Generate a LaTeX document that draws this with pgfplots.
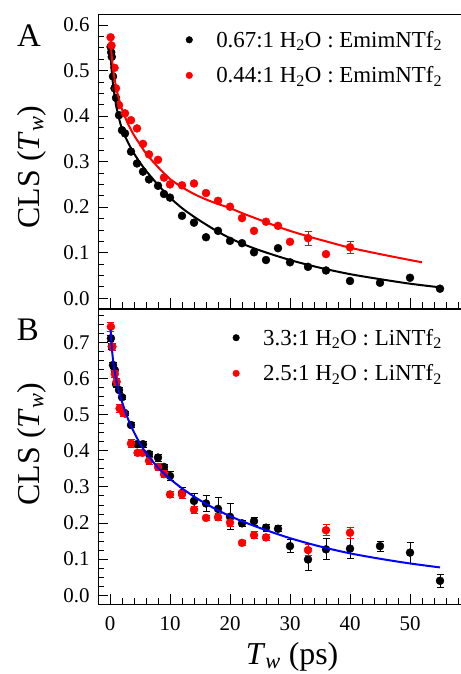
\documentclass[border=0pt]{standalone}
\usepackage{fontspec}
\setmainfont{Liberation Serif}
\usepackage{pgfplots}
\pgfplotsset{compat=1.18}
\definecolor{myred}{RGB}{255,0,0}
\definecolor{myblue}{RGB}{0,0,255}
\pgfplotsset{
  cls/.style={
    scale only axis, width=369bp, clip mode=individual,
    xmin=-2, xmax=59.5,
    xtick distance=10, minor x tick num=4,
    ytick distance=0.1, minor y tick num=3,
    tick align=inside, xtick pos=bottom, ytick pos=left,
    major tick length=10bp, minor tick length=6bp,
    every tick/.style={black, line width=0.8bp},
    axis line style={line width=0.8bp},
    tick label style={font=\fontsize{21}{25}\selectfont},
    /pgf/number format/assume math mode=true,
    y tick label style={/pgf/number format/fixed, /pgf/number format/fixed zerofill, /pgf/number format/precision=1},
    yticklabel style={xshift=-5bp},
    xticklabel style={yshift=-9bp},
    label style={font=\fontsize{32}{38}\selectfont},
    legend cell align=left,
    legend style={draw=none, fill=none, font=\fontsize{23}{27}\selectfont,
      row sep=14bp, anchor=north west, inner sep=0pt},
    legend image code/.code={%
      \path[draw=none, fill=none] (-4bp,-4bp) rectangle (25bp,4bp);
      \draw[#1, mark size=3.3bp] plot coordinates {(0bp,0bp)};},
  },
  pts/.style={only marks, mark=*, mark size=4bp, mark options={draw=none},
      error bars/y dir=both, error bars/y explicit,
      error bars/error bar style={line width=0.8bp},
      error bars/error mark options={rotate=90, mark size=3.5bp, line width=0.8bp}},
  fit/.style={no marks, line width=2bp, smooth},
}
\begin{document}
\begin{tikzpicture}
\useasboundingbox (0,0) rectangle (461bp,674bp);
% ---------------- Panel A ----------------
\begin{axis}[cls, at={(98bp,365.7bp)}, anchor=south west,
  height=293.6bp, ymin=-0.022, ymax=0.6226,
  xticklabels={},
  ylabel={CLS (\textit{T}\textsubscript{\textit{w}})},
  ylabel style={at={(axis description cs:-0.1789,0.481)}, anchor=center, rotate=0},
  legend style={at={(axis description cs:0.236,0.952)}},
]
\addplot[pts, black] coordinates {
(0.1,0.552) (0.2,0.540) (0.3,0.530) (0.5,0.487) (0.75,0.461) (1.0,0.440)
(1.5,0.402) (2.0,0.369) (2.5,0.362) (3.5,0.322) (4.5,0.296) (5.5,0.278)
(6.5,0.261) (8,0.247) (9,0.229) (10,0.221) (12,0.181) (14,0.166) (16,0.134)
(18,0.148) (20,0.126) (22,0.121) (24,0.101) (26,0.084) (28,0.110) (30,0.079)
(33,0.069) (36,0.061) (40,0.038) (45,0.034) (50,0.045) (55,0.021)};
\addlegendentry{0.67:1 H\textsubscript{2}O : EmimNTf\textsubscript{2}}
\addplot[pts, myred] coordinates {
(0.1,0.573) (0.25,0.555) (0.75,0.506) (1.0,0.461) (1.5,0.424) (2.5,0.406)
(3.5,0.391) (4.5,0.373) (5.5,0.339) (6.5,0.316) (8,0.304) (9,0.265) (10,0.250)
(12,0.248) (14,0.252) (16,0.231) (18,0.214) (20,0.201) (22,0.176) (24,0.148)
(26,0.168) (28,0.159) (30,0.124) (33,0.132) +- (0,0.015) (36,0.097)
(40,0.112) +- (0,0.013)};
\addlegendentry{0.44:1 H\textsubscript{2}O : EmimNTf\textsubscript{2}}
\addplot[fit, black, forget plot] coordinates {
(0.05,0.548) (0.25,0.505) (0.5,0.47) (1,0.425) (1.5,0.395) (2,0.372) (3,0.342)
(4,0.318) (5,0.298) (6,0.28) (8,0.249) (10,0.221) (12,0.198) (14,0.179)
(16,0.162) (18,0.146) (20,0.132) (22,0.12) (25,0.105) (30,0.084) (35,0.067)
(40,0.053) (45,0.042) (50,0.032) (55,0.024)};
\addplot[fit, myred, forget plot] coordinates {
(0.1,0.565) (0.3,0.53) (0.6,0.495) (1,0.465) (1.5,0.437) (2,0.415) (3,0.383)
(4,0.358) (5,0.338) (6,0.318) (8,0.288) (10,0.262) (12,0.244) (14,0.229)
(16,0.217) (18,0.207) (20,0.198) (22,0.187) (24,0.177) (26,0.167) (28,0.157)
(30,0.148) (33,0.136) (36,0.125) (40,0.111) (45,0.097) (50,0.084) (52,0.079)};
\node[font=\fontsize{33}{40}\selectfont] at (axis description cs:-0.187,0.927) {A};
\end{axis}
% ---------------- Panel B ----------------
\begin{axis}[cls, at={(98bp,69.7bp)}, anchor=south west,
  height=295.3bp, ymin=-0.025, ymax=0.792,
  ylabel={CLS (\textit{T}\textsubscript{\textit{w}})},
  ylabel style={at={(axis description cs:-0.1789,0.543)}, anchor=center, rotate=0},
  xlabel={\textit{T}\textsubscript{\textit{w}} (ps)},
  xlabel style={at={(axis description cs:0.526,-0.178)}, anchor=center},
  legend style={at={(axis description cs:0.363,0.940)}},
]
\addplot[pts, black] coordinates {
(0.15,0.711) +- (0,0.008) (0.3,0.688) +- (0,0.008) (0.5,0.637) +- (0,0.008)
(0.8,0.623) +- (0,0.006) (1.0,0.584) +- (0,0.008) (1.5,0.568) +- (0,0.006)
(2.0,0.548) +- (0,0.006) (2.5,0.503) +- (0,0.006) (3.5,0.471) +- (0,0.006)
(4.5,0.418) +- (0,0.008) (5.5,0.418) +- (0,0.008) (6.5,0.391) +- (0,0.008)
(8,0.381) +- (0,0.01) (9,0.355) +- (0,0.008) (10,0.330) +- (0,0.012)
(12,0.283) +- (0,0.015) (14,0.261) +- (0,0.022) (16,0.254) +- (0,0.022)
(18,0.239) +- (0,0.032) (20,0.217) +- (0,0.036) (22,0.199) +- (0,0.009)
(24,0.205) +- (0,0.011) (26,0.187) +- (0,0.01) (28,0.184) +- (0,0.008)
(30,0.136) +- (0,0.018) (33,0.099) +- (0,0.03) (36,0.127) +- (0,0.029)
(40,0.129) +- (0,0.028) (45,0.136) +- (0,0.014) (50,0.118) +- (0,0.029)
(55,0.040) +- (0,0.019)};
\addlegendentry{3.3:1 H\textsubscript{2}O : LiNTf\textsubscript{2}}
\addplot[pts, myred] coordinates {
(0.15,0.743) +- (0,0.012) (0.4,0.688) +- (0,0.01) (0.8,0.612) +- (0,0.01)
(1.1,0.591) +- (0,0.01) (1.6,0.517) +- (0,0.01) (2.2,0.505) +- (0,0.01)
(3.5,0.420) +- (0,0.01) (4.6,0.394) +- (0,0.008) (5.4,0.394) +- (0,0.008)
(6.5,0.372) +- (0,0.01) (8,0.355) +- (0,0.01) (9,0.335) +- (0,0.01)
(10,0.279) +- (0,0.008) (12,0.279) +- (0,0.01) (14,0.237) +- (0,0.01)
(16,0.214) +- (0,0.008) (18,0.216) +- (0,0.01) (20,0.201) +- (0,0.01)
(22,0.145) +- (0,0.006) (24,0.166) +- (0,0.01) (26,0.160) +- (0,0.008)
(33,0.125) +- (0,0.015) (36,0.180) +- (0,0.015) (40,0.173) +- (0,0.015)};
\addlegendentry{2.5:1 H\textsubscript{2}O : LiNTf\textsubscript{2}}
\addplot[fit, myblue, forget plot] coordinates {
(0.1,0.735) (0.3,0.685) (0.6,0.638) (1,0.598) (1.5,0.563) (2,0.535) (3,0.488)
(4,0.451) (5,0.42) (6,0.394) (8,0.353) (10,0.322) (12,0.296) (14,0.273)
(16,0.253) (18,0.235) (20,0.219) (22,0.205) (25,0.186) (30,0.158) (35,0.135)
(40,0.116) (45,0.101) (50,0.088) (55,0.077)};
\node[font=\fontsize{33}{40}\selectfont] at (axis description cs:-0.19,0.929) {B};
\end{axis}
\end{tikzpicture}
\end{document}
